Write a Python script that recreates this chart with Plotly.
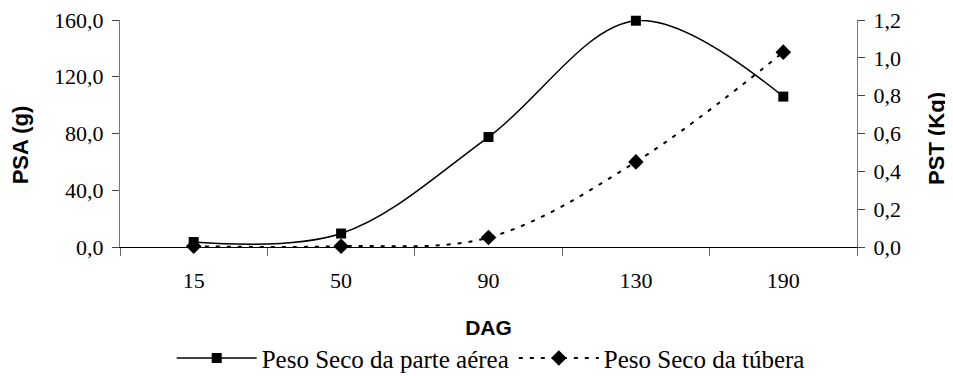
import plotly.graph_objects as go

dag = ["15", "50", "90", "130", "190"]
psa = [3.5, 9.5, 77.5, 159.5, 106.0]
pst = [0.004, 0.004, 0.05, 0.45, 1.03]

psa_ticks = [0, 40, 80, 120, 160]
pst_ticks = [0, 0.2, 0.4, 0.6, 0.8, 1.0, 1.2]

serif = "Liberation Serif"
sans = "Liberation Sans"

fig = go.Figure()
fig.add_trace(go.Scatter(
    x=dag, y=psa, name="Peso Seco da parte aérea", mode="lines+markers",
    line=dict(color="black", width=1.5, shape="spline", smoothing=1),
    marker=dict(symbol="square", size=10, color="black"),
    cliponaxis=False, xaxis="x", yaxis="y"))
fig.add_trace(go.Scatter(
    x=dag, y=pst, name="Peso Seco da túbera", mode="lines+markers",
    line=dict(color="black", width=2, dash="4px,7px", shape="spline", smoothing=1),
    marker=dict(symbol="diamond", size=12, color="black"),
    cliponaxis=False, xaxis="x", yaxis="y2"))

nb = len(dag)
bounds = [i - 0.5 for i in range(nb + 1)]
tickfont = dict(family=serif, size=22, color="black")

fig.update_layout(
    width=945, height=368,
    margin=dict(l=112, r=96, t=12, b=129, autoexpand=False),
    paper_bgcolor="white", plot_bgcolor="white",
    separators=",.",
    showlegend=True,
    font=dict(family=serif),
    legend=dict(orientation="h", x=0.503, y=-0.49, xanchor="center", yanchor="middle",
                font=dict(family=serif, size=25, color="black"),
                itemwidth=80, tracegroupgap=0, bgcolor="rgba(0,0,0,0)"),
    xaxis=dict(type="category", categoryorder="array", categoryarray=dag,
               range=[-0.5, nb - 0.5], showgrid=False, showline=True,
               linecolor="black", linewidth=1, ticks="outside", tickson="boundaries",
               ticklen=8, tickcolor="#666", tickfont=tickfont, ticklabelstandoff=14,
               ticklabeloverflow="allow",
               title=dict(text="<b>DAG</b>", font=dict(family=sans, size=21, color="black"),
                          standoff=27)),
    xaxis2=dict(overlaying="x", anchor="y", range=[-0.5, nb - 0.5], tickmode="array",
                tickvals=bounds, ticks="inside", ticklen=8, tickcolor="#666",
                showticklabels=False, showgrid=False, showline=False, zeroline=False),
    yaxis=dict(range=[0, 160], tickmode="array", tickvals=psa_ticks, tickformat=".1f",
               showgrid=False, showline=True, linecolor="#777", linewidth=1,
               zeroline=False, ticks="outside", ticklen=7, tickcolor="#444",
               tickfont=tickfont, ticklabelstandoff=4, ticklabeloverflow="allow"),
    yaxis2=dict(range=[0, 1.2], overlaying="y", side="right", anchor="x",
                tickmode="array", tickvals=pst_ticks, tickformat=".1f",
                showgrid=False, showline=True, linecolor="#777", linewidth=1,
                zeroline=False, ticks="outside", ticklen=7, tickcolor="#444",
                tickfont=tickfont, ticklabelstandoff=4, ticklabeloverflow="allow"),
    yaxis3=dict(range=[0, 160], overlaying="y", side="left", anchor="x",
                tickmode="array", tickvals=psa_ticks, ticks="inside", ticklen=7,
                tickcolor="#444", showticklabels=False, showgrid=False,
                showline=False, zeroline=False),
    yaxis4=dict(range=[0, 1.2], overlaying="y", side="right", anchor="x",
                tickmode="array", tickvals=pst_ticks, ticks="inside", ticklen=7,
                tickcolor="#444", showticklabels=False, showgrid=False,
                showline=False, zeroline=False),
    annotations=[
        dict(text="<b>PSA (g)</b>", xref="paper", yref="paper", x=-0.135, y=0.45,
             textangle=-90, showarrow=False, xanchor="center", yanchor="middle",
             font=dict(family=sans, size=22, color="black")),
        dict(text="<b>PST (Kg)</b>", xref="paper", yref="paper", x=1.107, y=0.48,
             textangle=-90, showarrow=False, xanchor="center", yanchor="middle",
             font=dict(family=sans, size=22, color="black")),
    ],
)

fig.write_html("out.html")
